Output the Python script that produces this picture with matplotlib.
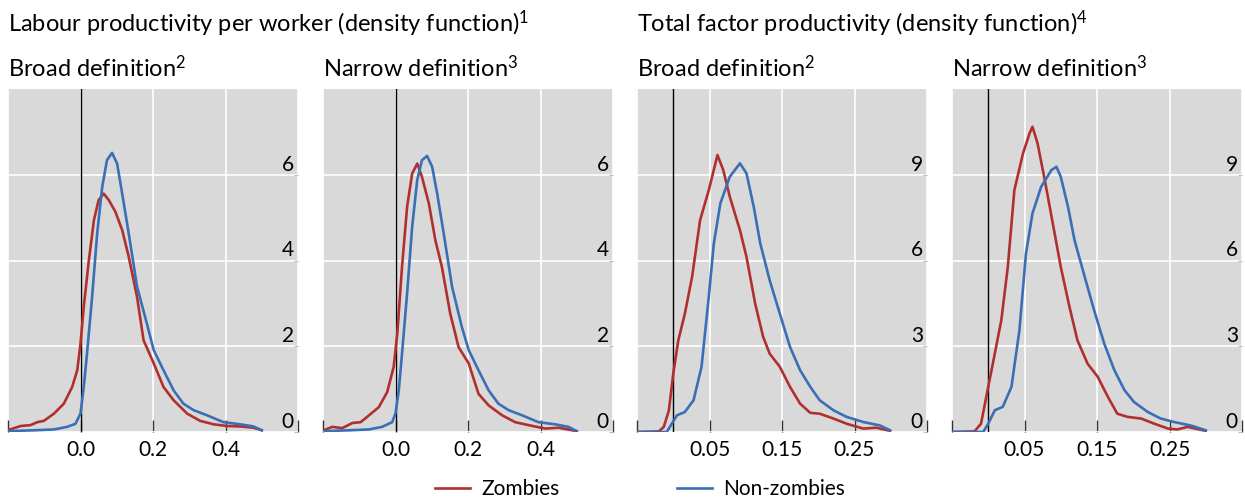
import matplotlib
matplotlib.use("Agg")
import matplotlib.pyplot as plt

plt.rcParams['font.family'] = ['Lato', 'DejaVu Sans']
plt.rcParams['mathtext.fontset'] = 'custom'
plt.rcParams['mathtext.rm'] = 'Lato'
plt.rcParams['mathtext.default'] = 'regular'

# Labour productivity, broad definition
lp_broad_zx = [-0.198, -0.165, -0.138, -0.119, -0.101, -0.073, -0.046, -0.023, -0.009, 0.0, 0.009,
               0.023, 0.037, 0.050, 0.064, 0.078, 0.096, 0.115, 0.133, 0.156, 0.174, 0.202,
               0.229, 0.257, 0.294, 0.330, 0.367, 0.404, 0.440, 0.477, 0.500]
lp_broad_zy = [0.05, 0.14, 0.16, 0.23, 0.26, 0.43, 0.66, 1.05, 1.44, 2.06, 2.92,
               4.00, 4.94, 5.41, 5.56, 5.41, 5.14, 4.71, 4.09, 3.15, 2.14, 1.60,
               1.05, 0.74, 0.43, 0.26, 0.18, 0.14, 0.13, 0.10, 0.04]
lp_broad_nx = [-0.198, -0.128, -0.073, -0.037, -0.014, 0.0, 0.009, 0.018, 0.032, 0.046, 0.060,
               0.073, 0.087, 0.101, 0.115, 0.133, 0.156, 0.183, 0.202, 0.229, 0.257,
               0.284, 0.312, 0.349, 0.394, 0.440, 0.477, 0.500]
lp_broad_ny = [0.02, 0.04, 0.06, 0.12, 0.19, 0.43, 1.05, 1.83, 3.15, 4.63, 5.72,
               6.34, 6.51, 6.26, 5.56, 4.63, 3.39, 2.53, 1.91, 1.44, 0.97,
               0.66, 0.51, 0.39, 0.23, 0.18, 0.13, 0.04]

# Labour productivity, narrow definition
lp_narrow_zx = [-0.195, -0.174, -0.147, -0.119, -0.096, -0.073, -0.046, -0.023, -0.005, 0.005, 0.018,
                0.032, 0.046, 0.060, 0.073, 0.092, 0.110, 0.128, 0.151, 0.174, 0.202,
                0.229, 0.257, 0.294, 0.330, 0.367, 0.413, 0.450, 0.500]
lp_narrow_zy = [0.05, 0.12, 0.09, 0.21, 0.23, 0.39, 0.58, 0.93, 1.52, 2.30, 3.85,
                5.25, 6.03, 6.26, 5.95, 5.33, 4.47, 3.85, 2.76, 1.98, 1.60,
                0.89, 0.62, 0.39, 0.23, 0.16, 0.08, 0.10, 0.02]
lp_narrow_nx = [-0.195, -0.128, -0.073, -0.037, -0.009, 0.0, 0.009, 0.018, 0.032, 0.046, 0.060,
                0.073, 0.087, 0.101, 0.115, 0.133, 0.156, 0.183, 0.202, 0.229, 0.257,
                0.284, 0.312, 0.349, 0.394, 0.440, 0.477, 0.500]
lp_narrow_ny = [0.02, 0.04, 0.06, 0.12, 0.23, 0.43, 0.97, 1.83, 3.23, 4.79, 5.88,
                6.34, 6.44, 6.19, 5.56, 4.63, 3.39, 2.45, 1.91, 1.44, 0.97,
                0.66, 0.51, 0.39, 0.23, 0.18, 0.12, 0.02]

# TFP, broad definition
tfp_broad_zx = [-0.049, -0.020, -0.013, -0.006, 0.0, 0.007, 0.016, 0.026, 0.037, 0.049, 0.061,
                0.069, 0.078, 0.092, 0.101, 0.113, 0.124, 0.133, 0.147, 0.161, 0.175,
                0.189, 0.202, 0.221, 0.239, 0.262, 0.280, 0.299]
tfp_broad_zy = [0.0, 0.02, 0.18, 0.76, 2.04, 3.21, 4.14, 5.43, 7.41, 8.46, 9.69,
                9.16, 8.23, 7.06, 6.13, 4.49, 3.33, 2.74, 2.28, 1.58, 0.99,
                0.67, 0.64, 0.47, 0.29, 0.12, 0.15, 0.04]
tfp_broad_nx = [-0.049, -0.009, -0.002, 0.005, 0.016, 0.028, 0.039, 0.049, 0.056, 0.065, 0.078,
                0.092, 0.101, 0.111, 0.120, 0.133, 0.147, 0.161, 0.175, 0.189, 0.202,
                0.221, 0.239, 0.262, 0.285, 0.299]
tfp_broad_ny = [0.0, 0.0, 0.29, 0.58, 0.70, 1.11, 2.28, 4.73, 6.60, 8.00, 8.93,
                9.40, 9.05, 7.88, 6.60, 5.31, 4.14, 2.98, 2.16, 1.58, 1.11,
                0.76, 0.53, 0.35, 0.23, 0.06]

# TFP, narrow definition
tfp_narrow_zx = [-0.049, -0.019, -0.010, 0.0, 0.009, 0.018, 0.027, 0.036, 0.048, 0.057, 0.061,
                 0.068, 0.078, 0.089, 0.100, 0.112, 0.123, 0.137, 0.151, 0.165, 0.178,
                 0.192, 0.211, 0.229, 0.248, 0.261, 0.275, 0.300]
tfp_narrow_zy = [0.0, 0.02, 0.29, 1.58, 2.74, 3.91, 5.78, 8.46, 9.75, 10.45, 10.68,
                 10.10, 8.81, 7.30, 5.78, 4.38, 3.21, 2.39, 1.93, 1.23, 0.64,
                 0.53, 0.47, 0.29, 0.12, 0.09, 0.18, 0.04]
tfp_narrow_nx = [-0.049, -0.007, 0.0, 0.009, 0.020, 0.032, 0.043, 0.052, 0.061, 0.073, 0.087,
                 0.094, 0.100, 0.110, 0.119, 0.133, 0.146, 0.160, 0.174, 0.188, 0.201,
                 0.220, 0.238, 0.256, 0.279, 0.300]
tfp_narrow_ny = [0.0, 0.0, 0.29, 0.76, 0.88, 1.58, 3.56, 6.24, 7.65, 8.58, 9.16,
                 9.28, 8.93, 7.88, 6.71, 5.43, 4.26, 3.09, 2.16, 1.46, 1.05,
                 0.70, 0.47, 0.35, 0.23, 0.06]

lp_xticks = [-0.2, 0.0, 0.2, 0.4, 0.6]
lp_xlabels = ['', '0.0', '0.2', '0.4', '']
lp_yticks = [0, 2, 4, 6]
tfp_xticks = [-0.05, 0.05, 0.15, 0.25, 0.35]
tfp_xlabels = ['', '0.05', '0.15', '0.25', '']
tfp_yticks = [0, 3, 6, 9]

subtitles = ['Broad definition$^{2}$', 'Narrow definition$^{3}$',
             'Broad definition$^{2}$', 'Narrow definition$^{3}$']

RED = '#b0302f'
BLUE = '#3a6fb6'
W, H = 1245, 501

fig = plt.figure(figsize=(W / 100, H / 100), dpi=100)

panels = [
    (8, lp_broad_zx, lp_broad_zy, lp_broad_nx, lp_broad_ny, (-0.2, 0.6), (0, 8), lp_xticks, lp_xlabels, lp_yticks),
    (323, lp_narrow_zx, lp_narrow_zy, lp_narrow_nx, lp_narrow_ny, (-0.2, 0.6), (0, 8), lp_xticks, lp_xlabels, lp_yticks),
    (637, tfp_broad_zx, tfp_broad_zy, tfp_broad_nx, tfp_broad_ny, (-0.05, 0.35), (0, 12), tfp_xticks, tfp_xlabels, tfp_yticks),
    (952, tfp_narrow_zx, tfp_narrow_zy, tfp_narrow_nx, tfp_narrow_ny, (-0.05, 0.35), (0, 12), tfp_xticks, tfp_xlabels, tfp_yticks),
]

top, bottom = 89, 432
for i, (left, zx, zy, nx, ny, xl, yl, xt, xlab, yt) in enumerate(panels):
    ax = fig.add_axes([left / W, (H - bottom) / H, 290 / W, (bottom - top) / H])
    ax.set_facecolor('#d9d9d9')
    for s in ax.spines.values():
        s.set_visible(False)
    ax.grid(True, color='white', linewidth=1.2)
    ax.set_axisbelow(True)
    ax.axvline(0, color='black', linewidth=1.0, zorder=2)
    l1, = ax.plot(zx, zy, color=RED, linewidth=1.9, zorder=3, solid_joinstyle='round')
    l2, = ax.plot(nx, ny, color=BLUE, linewidth=1.9, zorder=3, solid_joinstyle='round')
    ax.set_xlim(*xl)
    ax.set_ylim(*yl)
    ax.set_xticks(xt)
    ax.set_xticklabels(xlab)
    ax.tick_params(axis='x', direction='in', length=9, width=1.0, color='#333333',
                   labelsize=15, pad=6)
    ax.set_yticks(yt)
    ax.yaxis.tick_right()
    ax.tick_params(axis='y', direction='in', length=3, color='#bbbbbb', labelsize=15, pad=-3)
    for lab in ax.get_yticklabels():
        lab.set_ha('right')
        lab.set_va('bottom')
    fig.text(left / W, 1 - 77 / H, subtitles[i], fontsize=17, ha='left', va='baseline')

fig.text(8 / W, 1 - 32 / H, 'Labour productivity per worker (density function)$^{1}$',
         fontsize=17, ha='left', va='baseline')
fig.text(637 / W, 1 - 32 / H, 'Total factor productivity (density function)$^{4}$',
         fontsize=17, ha='left', va='baseline')

fig.legend([l1, l2], ['Zombies', 'Non-zombies'], loc='center', ncol=2,
           bbox_to_anchor=(640 / W, 1 - 489 / H), frameon=False, fontsize=15,
           handlelength=1.68, handletextpad=0.58, columnspacing=5.6)

fig.savefig('out.png', dpi=100)
